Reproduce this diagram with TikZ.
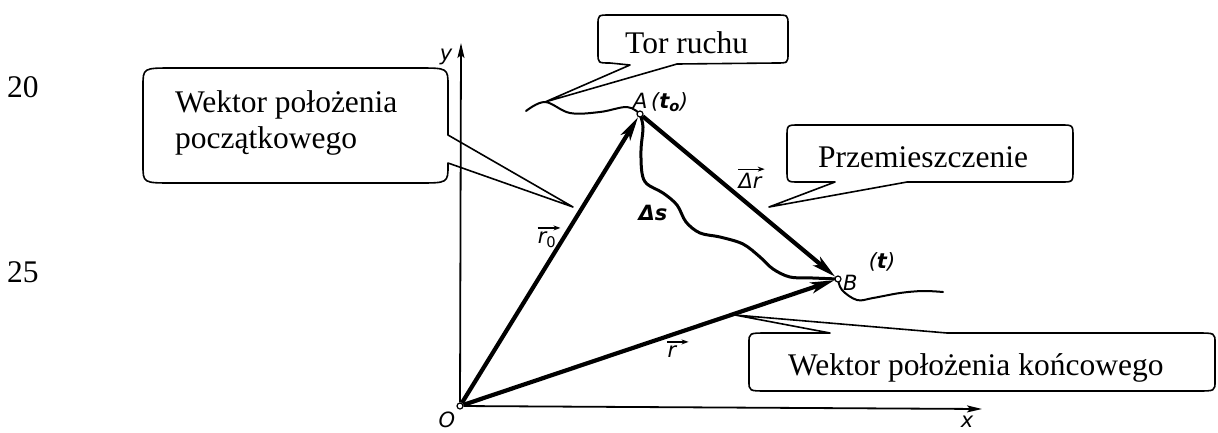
\documentclass[tikz,border=0pt]{standalone}
\usepackage{fontspec}
\setmainfont{Liberation Serif}
\newfontfamily\hand{DejaVu Sans}
\usetikzlibrary{arrows.meta}
\begin{document}
\begin{tikzpicture}[x=1pt,y=-1pt,
  box/.style={draw,line width=1.6pt,line join=round},
  ctext/.style={anchor=base west,inner sep=0pt,font=\fontsize{31.5}{36}\selectfont},
  vec/.style={line width=4.2pt,-{Stealth[length=24pt,width=11pt,inset=6pt]}},
  axis/.style={line width=1.8pt,-{Stealth[length=15pt,width=7pt,inset=3pt]}},
  pt/.style={circle,draw,line width=1.2pt,fill=white,inner sep=0pt,minimum size=6pt},
  lbl/.style={inner sep=0pt,font=\hand\itshape\fontsize{21}{24}\selectfont},
  over/.style={line width=1.3pt,-{Stealth[length=7pt,width=5pt]}},
  curve/.style={line width=2pt,line cap=round,line join=round},
]
\useasboundingbox (0,0) rectangle (1218,432);

% line numbers
\node[ctext] (n20) at (7,97) {20};
\node[ctext] (n25) at (7,282) {25};

% trajectory and path length
\draw[curve] plot[smooth,tension=0.6] coordinates {(526,111) (545,102) (570,113) (600,112) (627,107) (640,114)};
\draw[curve] plot[smooth,tension=0.6] coordinates {(838,279) (842,290) (857,300) (873,298) (900,293) (923,291) (943,292)};
\draw[line width=3pt,line cap=round,line join=round] plot[smooth,tension=0.55] coordinates {(640,114) (643,127) (641,150) (642,173) (647,184) (663,193) (677,205) (686,222) (700,233) (720,237) (743,244) (760,257) (773,269) (790,277) (813,278) (838,279)};

% points
\node[pt] (O) at (460,406) {};
\node[pt] (A) at (640,114) {};
\node[pt] (B) at (838,279) {};
\coordinate (ytip) at (461,43);
\coordinate (xtip) at (982,409);

% axes
\draw[axis] (O) -- (ytip);
\draw[axis] (O) -- (xtip);
\node[lbl] (ylab) at (446,57) {y};
\node[lbl] (xlab) at (967,422) {x};
\node[lbl] (Olab) at (447,420) {O};

% vectors
\draw[vec] (O) -- (A);
\draw[vec] (A) -- (B);
\draw[vec] (O) -- (B);

% labels
\node[lbl,anchor=base west] (Alab) at (633,108) {A\,(\textbf{t}\textsubscript{\textbf{o}})};
\node[lbl,anchor=base west] (Blab) at (843,290) {B};
\node[lbl] (tlab) at (882,262) {(\textbf{t})};
\node[lbl] (r0lab) at (547,240) {r\textsubscript{\upshape 0}};
\draw[over] ([yshift=4pt]r0lab.north west) -- ([yshift=4pt,xshift=4pt]r0lab.north east);
\node[lbl] (drlab) at (750,181) {Δr};
\draw[over] ([yshift=4pt]drlab.north west) -- ([yshift=4pt,xshift=3pt]drlab.north east);
\node[lbl] (dslab) at (653,213) {\textbf{Δs}};
\node[lbl] (rlab) at (672,352) {r};
\draw[over] ([yshift=4pt]rlab.north west) -- ([yshift=4pt,xshift=12pt]rlab.north east);

% callout pointer tips
\coordinate (t1) at (573,207);
\coordinate (t2) at (545,102);
\coordinate (t3) at (769,207);
\coordinate (t4) at (735,315);

% callout 1: Wektor polozenia poczatkowego
\draw[box] (173,68) -- (418,68) .. controls (448,68) .. (448,86) -- (448,135) -- (t1) -- (448,163) -- (448,165)
  .. controls (448,183) .. (418,183) -- (173,183) .. controls (143,183) .. (143,165) -- (143,86)
  .. controls (143,68) .. (173,68) -- cycle;
\node[ctext] (c1a) at (175,112) {Wektor położenia};
\node[ctext] (c1b) at (175,148) {początkowego};

% callout 2: Tor ruchu
\draw[box] (610,15) -- (776,15) .. controls (788,15) .. (788,25) -- (788,53) .. controls (788,63) .. (776,63)
  -- (677,64) -- (t2) -- (630,65) -- (610,63) .. controls (598,63) .. (598,53) -- (598,25)
  .. controls (598,15) .. (610,15) -- cycle;
\node[ctext] (c2) at (625,53) {Tor ruchu};

% callout 3: Przemieszczenie
\draw[box] (799,125) -- (1061,125) .. controls (1073,125) .. (1073,137) -- (1073,170) .. controls (1073,182) .. (1061,182)
  -- (907,182) -- (t3) -- (835,182) -- (799,182) .. controls (787,182) .. (787,170) -- (787,137)
  .. controls (787,125) .. (799,125) -- cycle;
\node[ctext] (c3) at (818,167) {Przemieszczenie};

% callout 4: Wektor polozenia koncowego
\draw[box] (767,333) -- (830,333) -- (t4) -- (947,333) -- (1197,333) .. controls (1215,333) .. (1215,343)
  -- (1215,381) .. controls (1215,391) .. (1197,391) -- (767,391) .. controls (749,391) .. (749,381)
  -- (749,343) .. controls (749,333) .. (767,333) -- cycle;
\node[ctext] (c4) at (788,375) {Wektor położenia końcowego};
\end{tikzpicture}
\end{document}
